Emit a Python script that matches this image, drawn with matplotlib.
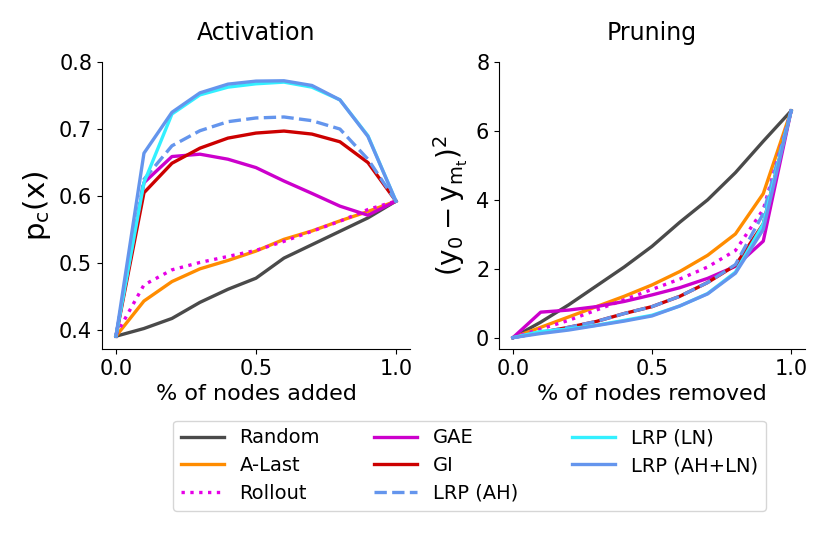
import numpy as np
import matplotlib
matplotlib.use("Agg")
import matplotlib.pyplot as plt

x = [0.0, 0.1, 0.2, 0.3, 0.4, 0.5, 0.6, 0.7, 0.8, 0.9, 1.0]

methods = ["Random", "A-Last", "Rollout", "GAE", "GI", "LRP (AH)", "LRP (LN)", "LRP (AH+LN)"]
colors = ["#4a4a4a", "#ff8c00", "#e600e6", "#cc00cc", "#cc0000", "#6495ed", "#33f0ff", "#6495ed"]
styles = ["-", "-", ":", "-", "-", "--", "-", "-"]

# activation curves (p_c(x) vs fraction of nodes added)
act_random = [0.391, 0.4025, 0.4175, 0.4415, 0.461, 0.4775, 0.5075, 0.5275, 0.5475, 0.5675, 0.5925]
act_alast = [0.391, 0.4435, 0.4725, 0.4915, 0.504, 0.518, 0.5355, 0.548, 0.563, 0.577, 0.5925]
act_rollout = [0.393, 0.4675, 0.49, 0.501, 0.51, 0.519, 0.5325, 0.5475, 0.5625, 0.58, 0.5925]
act_gae = [0.391, 0.62, 0.659, 0.6625, 0.655, 0.6425, 0.6225, 0.604, 0.585, 0.5715, 0.5925]
act_gi = [0.391, 0.605, 0.649, 0.6715, 0.6865, 0.694, 0.697, 0.6925, 0.681, 0.65, 0.5925]
act_lrp_ah = [0.391, 0.625, 0.675, 0.6975, 0.711, 0.7165, 0.718, 0.7125, 0.70, 0.655, 0.5925]
act_lrp_ln = [0.391, 0.62, 0.7225, 0.751, 0.7625, 0.7675, 0.770, 0.7625, 0.7435, 0.690, 0.5925]
act_lrp_ahln = [0.391, 0.664, 0.725, 0.754, 0.767, 0.7715, 0.772, 0.765, 0.7435, 0.689, 0.5925]

# pruning curves ((y0 - y_mt)^2 vs fraction of nodes removed)
pr_random = [0.0, 0.45, 0.95, 1.5, 2.05, 2.65, 3.35, 4.0, 4.79, 5.7, 6.58]
pr_alast = [0.0, 0.3, 0.6, 0.9, 1.2, 1.53, 1.92, 2.39, 3.01, 4.18, 6.58]
pr_rollout = [0.0, 0.25, 0.5, 0.8, 1.1, 1.4, 1.7, 2.05, 2.53, 3.72, 6.58]
pr_gae = [0.0, 0.74, 0.8, 0.9, 1.05, 1.24, 1.45, 1.72, 2.07, 2.8, 6.58]
pr_gi = [0.0, 0.15, 0.3, 0.47, 0.7, 0.9, 1.2, 1.6, 2.1, 3.3, 6.58]
pr_lrp_ah = [0.0, 0.15, 0.3, 0.47, 0.7, 0.9, 1.2, 1.6, 2.12, 3.6, 6.58]
pr_lrp_ln = [0.0, 0.18, 0.25, 0.36, 0.5, 0.65, 0.92, 1.28, 1.9, 3.3, 6.58]
pr_lrp_ahln = [0.0, 0.12, 0.22, 0.35, 0.48, 0.63, 0.92, 1.27, 1.87, 3.14, 6.58]

act = [act_random, act_alast, act_rollout, act_gae, act_gi, act_lrp_ah, act_lrp_ln, act_lrp_ahln]
pr = [pr_random, pr_alast, pr_rollout, pr_gae, pr_gi, pr_lrp_ah, pr_lrp_ln, pr_lrp_ahln]

plt.rcParams["font.size"] = 15

fig = plt.figure(figsize=(8.31, 5.35), dpi=100)
ax1 = fig.add_axes([0.1227, 0.3477, 0.3706, 0.5364])
ax2 = fig.add_axes([0.6005, 0.3477, 0.3682, 0.5364])

for i in range(len(methods)):
    ax1.plot(x, act[i], color=colors[i], linestyle=styles[i], lw=2.4, label=methods[i])
    ax2.plot(x, pr[i], color=colors[i], linestyle=styles[i], lw=2.4)

ax1.set_ylim(top=0.8)
ax1.set_yticks([0.4, 0.5, 0.6, 0.7, 0.8])
ax1.set_yticklabels(["0.4", "0.5", "0.6", "0.7", "0.8"])
ax1.set_xticks([0.0, 0.5, 1.0])
ax1.set_title("Activation", fontsize=17, pad=16)
ax1.set_xlabel("% of nodes added", fontsize=16)
ax1.set_ylabel(r"$\mathrm{p_c(x)}$", fontsize=21)

ax2.set_ylim(top=8)
ax2.set_yticks([0, 2, 4, 6, 8])
ax2.set_xticks([0.0, 0.5, 1.0])
ax2.set_title("Pruning", fontsize=17, pad=16)
ax2.set_xlabel("% of nodes removed", fontsize=16)
ax2.set_ylabel(r"$\mathrm{(y_0 - y_{m_t})^2}$", fontsize=20)

for ax in (ax1, ax2):
    ax.spines["top"].set_visible(False)
    ax.spines["right"].set_visible(False)

handles, labels = ax1.get_legend_handles_labels()
fig.legend(handles, labels, ncol=3, loc="upper center", bbox_to_anchor=(0.565, 0.232),
           fontsize=14, handlelength=2.2, columnspacing=2.8, labelspacing=0.45)

fig.savefig("out.png", dpi=100)
